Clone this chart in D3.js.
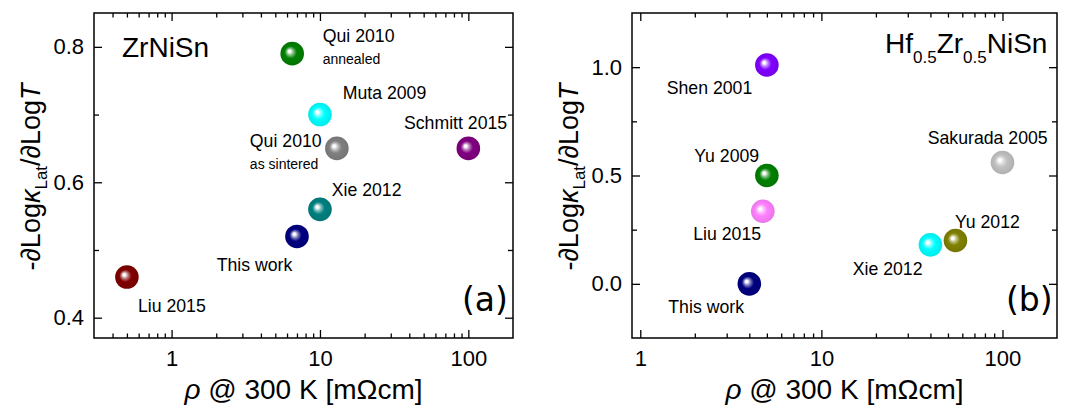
<!DOCTYPE html>
<html>
<head>
<meta charset="utf-8">
<script src="https://cdn.jsdelivr.net/npm/d3@7"></script>
<style>
  body { margin: 0; background: #fff; }
  text { font-family: "Liberation Sans", Arial, sans-serif; fill: #000; }
</style>
</head>
<body>
<svg id="chart" width="1073" height="412"></svg>
<script>
// ---- data ----
var xMajorTicks = [1, 10, 100];

// (a) ZrNiSn
var namesA = ["Qui 2010", "Muta 2009", "Qui 2010", "Schmitt 2015", "Xie 2012", "This work", "Liu 2015"];
var notesA = ["annealed", "", "as sintered", "", "", "", ""];
var rhoA   = [6.5, 10, 13, 100, 10, 7, 0.5];
var slopeA = [0.79, 0.70, 0.65, 0.65, 0.56, 0.52, 0.46];
var yTicksA = [0.4, 0.6, 0.8];
var yMinorA = [0.5, 0.7];

// (b) Hf0.5Zr0.5NiSn
var namesB = ["Shen 2001", "Yu 2009", "Liu 2015", "This work", "Xie 2012", "Yu 2012", "Sakurada 2005"];
var rhoB   = [5, 5, 4.75, 4, 40, 55, 100];
var slopeB = [1.01, 0.50, 0.335, 0.0, 0.18, 0.20, 0.56];
var yTicksB = [0.0, 0.5, 1.0];
var yMinorB = [0.25, 0.75];

// ---- styling / layout ----
var colorsA = ["#008000", "#00ffff", "#808080", "#800080", "#008080", "#000080", "#800000"];
var colorsB = ["#8000ff", "#008000", "#ff80ff", "#000080", "#00ffff", "#808000", "#c0c0c0"];
// label offsets from the marker centre (start anchor, baseline)
var offA = [[30.5, -11.6], [22.7, -16], [-87, -1.7], [-64.4, -19.4], [11.7, -13.6], [-80.3, 34.3], [11, 34.7]];
var noteOffA = [[30.5, 10.4], null, [-87, 20.6], null, null, null, null];
var offB = [[-100.2, 29], [-72.6, -13.8], [-69.6, 28.7], [-81, 29.4], [-77.7, 30], [-0.5, -12.8], [-74.8, -18.5]];

var svg = d3.select("#chart");
var defs = svg.append("defs");
var gradCount = 0;

function sphereFill(base) {
  var id = "sph" + (gradCount++);
  var g = defs.append("radialGradient").attr("id", id)
    .attr("cx", "50%").attr("cy", "50%").attr("r", "50%")
    .attr("fx", "37%").attr("fy", "39%");
  g.append("stop").attr("offset", "0%").attr("stop-color", "#ffffff");
  g.append("stop").attr("offset", "10%").attr("stop-color", "#ffffff");
  g.append("stop").attr("offset", "30%").attr("stop-color", d3.interpolateRgb(base, "#ffffff")(0.45));
  g.append("stop").attr("offset", "52%").attr("stop-color", base);
  g.append("stop").attr("offset", "100%").attr("stop-color", d3.color(base).darker(0.25));
  return "url(#" + id + ")";
}

function xMinorFor(lo, hi) {
  var out = [];
  [0.1, 1, 10, 100].forEach(function(dec) {
    for (var k = 2; k <= 9; k++) {
      var v = k * dec;
      if (v > lo * 1.001 && v < hi * 0.999) out.push(+v.toFixed(3));
    }
  });
  return out;
}

function drawPanel(p) {
  var x = d3.scaleLog().domain(p.xDomain).range([p.left, p.right]);
  var y = d3.scaleLinear().domain(p.yDomain).range([p.bottom, p.top]);
  var w = p.right - p.left, h = p.bottom - p.top;
  var fmt = d3.format(".1f");
  var xMinor = xMinorFor(p.xDomain[0], p.xDomain[1]);

  function styleAxis(g) {
    g.select(".domain").remove();
    g.selectAll("line").attr("stroke", "#000").attr("stroke-width", 1.3);
    g.selectAll("text").style("font-family", '"Liberation Sans", Arial, sans-serif')
      .style("font-size", "22px").attr("fill", "#000");
  }

  // bottom
  svg.append("g").attr("transform", `translate(0,${p.bottom})`)
    .call(d3.axisBottom(x).tickValues(xMajorTicks).tickFormat(d3.format("d")).tickSize(-8).tickPadding(12))
    .call(styleAxis);
  svg.append("g").attr("transform", `translate(0,${p.bottom})`)
    .call(d3.axisBottom(x).tickValues(xMinor).tickFormat("").tickSize(-4.5))
    .call(styleAxis);
  // top
  svg.append("g").attr("transform", `translate(0,${p.top})`)
    .call(d3.axisTop(x).tickValues(xMajorTicks).tickFormat("").tickSize(-8))
    .call(styleAxis);
  svg.append("g").attr("transform", `translate(0,${p.top})`)
    .call(d3.axisTop(x).tickValues(xMinor).tickFormat("").tickSize(-4.5))
    .call(styleAxis);
  // left
  svg.append("g").attr("transform", `translate(${p.left},0)`)
    .call(d3.axisLeft(y).tickValues(p.yTicks).tickFormat(fmt).tickSize(-8).tickPadding(10))
    .call(styleAxis);
  svg.append("g").attr("transform", `translate(${p.left},0)`)
    .call(d3.axisLeft(y).tickValues(p.yMinor).tickFormat("").tickSize(-5))
    .call(styleAxis);
  // right
  svg.append("g").attr("transform", `translate(${p.right},0)`)
    .call(d3.axisRight(y).tickValues(p.yTicks).tickFormat("").tickSize(-8))
    .call(styleAxis);
  svg.append("g").attr("transform", `translate(${p.right},0)`)
    .call(d3.axisRight(y).tickValues(p.yMinor).tickFormat("").tickSize(-5))
    .call(styleAxis);

  // frame
  svg.append("rect")
    .attr("x", p.left).attr("y", p.top).attr("width", w).attr("height", h)
    .attr("fill", "none").attr("stroke", "#000").attr("stroke-width", 1.5);

  // markers
  var pts = p.rho.map(function(r, i) {
    return { rho: r, s: p.slope[i], name: p.names[i], note: p.notes ? p.notes[i] : "",
             color: p.colors[i], off: p.off[i], noteOff: p.noteOff ? p.noteOff[i] : null };
  });

  var gPts = svg.append("g");
  gPts.selectAll("circle").data(pts).enter()
    .append("circle")
    .attr("cx", d => x(d.rho))
    .attr("cy", d => y(d.s))
    .attr("r", 11.8)
    .attr("fill", d => sphereFill(d.color));

  gPts.selectAll("text.lbl").data(pts).enter()
    .append("text").attr("class", "lbl")
    .attr("x", d => x(d.rho) + d.off[0])
    .attr("y", d => y(d.s) + d.off[1])
    .style("font-size", "17.7px")
    .text(d => d.name);

  gPts.selectAll("text.note").data(pts.filter(d => d.note)).enter()
    .append("text").attr("class", "note")
    .attr("x", d => x(d.rho) + d.noteOff[0])
    .attr("y", d => y(d.s) + d.noteOff[1])
    .style("font-size", "14px")
    .text(d => d.note);

  // axis titles
  var xt = svg.append("text")
    .attr("x", (p.left + p.right) / 2).attr("y", 399)
    .attr("text-anchor", "middle").style("font-size", "28px");
  xt.append("tspan").style("font-style", "italic").text("ρ");
  xt.append("tspan").text(" @ 300 K [mΩcm]");

  var yt = svg.append("text")
    .attr("transform", `translate(${p.left - 54},177) rotate(-90)`)
    .attr("text-anchor", "middle").style("font-size", "27px");
  yt.append("tspan").text("-");
  yt.append("tspan").style("font-style", "italic").text("∂");
  yt.append("tspan").text("Log");
  yt.append("tspan").style("font-style", "italic").text("κ");
  yt.append("tspan").attr("dy", 7).style("font-size", "17px").text("Lat");
  yt.append("tspan").attr("dy", -7).text("/");
  yt.append("tspan").style("font-style", "italic").text("∂");
  yt.append("tspan").text("Log");
  yt.append("tspan").style("font-style", "italic").text("T");

  // panel letter
  svg.append("text")
    .attr("x", p.right - 51).attr("y", 311)
    .style("font-family", '"DejaVu Sans", sans-serif').style("font-size", "33px")
    .text(p.letter);
}

drawPanel({
  left: 94, right: 513, top: 13, bottom: 338,
  xDomain: [0.3, 200], yDomain: [0.37, 0.85],
  yTicks: yTicksA, yMinor: yMinorA,
  rho: rhoA, slope: slopeA, names: namesA, notes: notesA,
  colors: colorsA, off: offA, noteOff: noteOffA, letter: "(a)"
});

drawPanel({
  left: 632, right: 1057, top: 13, bottom: 338,
  xDomain: [0.9, 200], yDomain: [-0.25, 1.25],
  yTicks: yTicksB, yMinor: yMinorB,
  rho: rhoB, slope: slopeB, names: namesB, notes: null,
  colors: colorsB, off: offB, noteOff: null, letter: "(b)"
});

// compound names
svg.append("text").attr("x", 122).attr("y", 57).style("font-size", "28px").text("ZrNiSn");

var hz = svg.append("text").attr("x", 885).attr("y", 53).style("font-size", "28px");
hz.append("tspan").text("Hf");
hz.append("tspan").attr("dy", 10).style("font-size", "17px").text("0.5");
hz.append("tspan").attr("dy", -10).text("Zr");
hz.append("tspan").attr("dy", 10).style("font-size", "17px").text("0.5");
hz.append("tspan").attr("dy", -10).text("NiSn");
</script>
</body>
</html>
